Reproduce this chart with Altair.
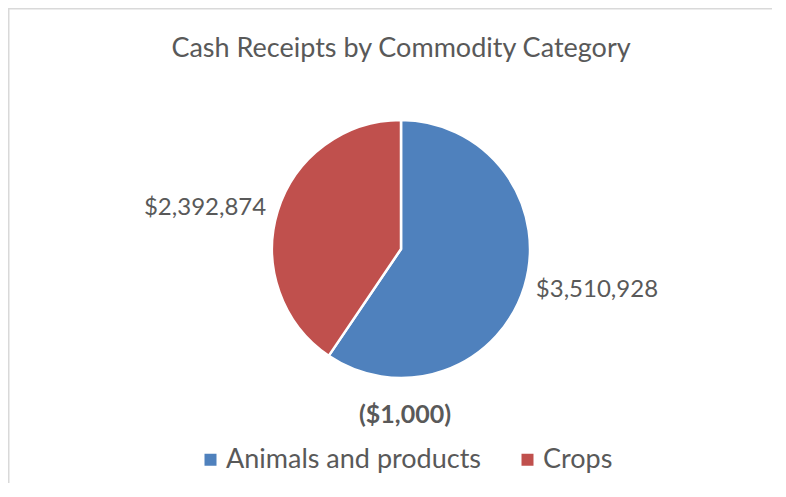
import altair as alt
import pandas as pd

categories = ["Animals and products", "Crops"]
values = [3510928, 2392874]
colors = ["#4F81BD", "#C0504D"]
title_text = "Cash Receipts by Commodity Category"
unit_text = "($1,000)"

df = pd.DataFrame({"category": categories, "value": values})

FONT = "Lato"
GRAY = "#595959"

base = alt.Chart(df)

pie = base.mark_arc(outerRadius=129, stroke="white", strokeWidth=2.5).encode(
    theta=alt.Theta("value:Q", stack=True),
    color=alt.Color(
        "category:N",
        scale=alt.Scale(domain=categories, range=colors),
        legend=alt.Legend(
            title=unit_text,
            orient="none",
            legendX=67,
            legendY=303,
            direction="horizontal",
            titleAnchor="middle",
            titleFont=FONT,
            titleFontSize=25,
            titleFontWeight="bold",
            titleColor=GRAY,
            titlePadding=18,
            labelFont=FONT,
            labelFontSize=27,
            labelColor=GRAY,
            labelLimit=0,
            labelOffset=2,
            symbolType="square",
            symbolSize=144,
            symbolStrokeWidth=0,
            columnPadding=32,
        ),
    ),
    order=alt.Order("category:N", sort="ascending"),
)

lab_base = base.transform_window(
    cum="sum(value)", frame=[None, 0], sort=[alt.SortField("category", order="ascending")]
).transform_calculate(mid="datum.cum - datum.value / 2")


def label_layer(cat, align):
    return lab_base.transform_filter(alt.datum.category == cat).mark_text(
        radius=141, align=align, baseline="middle", font=FONT, fontSize=24, color=GRAY
    ).encode(
        theta=alt.Theta("mid:Q", stack=None),
        text=alt.Text("value:Q", format="$,.0f"),
    )


lab_animals = label_layer(categories[0], "left")
lab_crops = label_layer(categories[1], "right")

border_df = pd.DataFrame({"k": [0]})
border_top = alt.Chart(border_df).mark_rule(color="#d9d9d9", strokeWidth=1.5).encode(
    x=alt.value(-122), x2=alt.value(700), y=alt.value(-91.25)
)
border_left = alt.Chart(border_df).mark_rule(color="#d9d9d9", strokeWidth=1.5).encode(
    x=alt.value(-121.25), y=alt.value(-92), y2=alt.value(400)
)

chart = alt.layer(border_top, border_left, pie, lab_animals, lab_crops).properties(
    width=542,
    height=298,
    autosize=alt.AutoSizeParams(type="none"),
    padding={"left": 122, "top": 92, "right": 100, "bottom": 85},
    title=alt.TitleParams(
        text=title_text,
        anchor="middle",
        font=FONT,
        fontSize=27,
        fontWeight="normal",
        color=GRAY,
        baseline="alphabetic",
        offset=-77,
    ),
).configure_view(stroke=None)

chart.save("out.html", embed_options={"renderer": "svg", "actions": False})
